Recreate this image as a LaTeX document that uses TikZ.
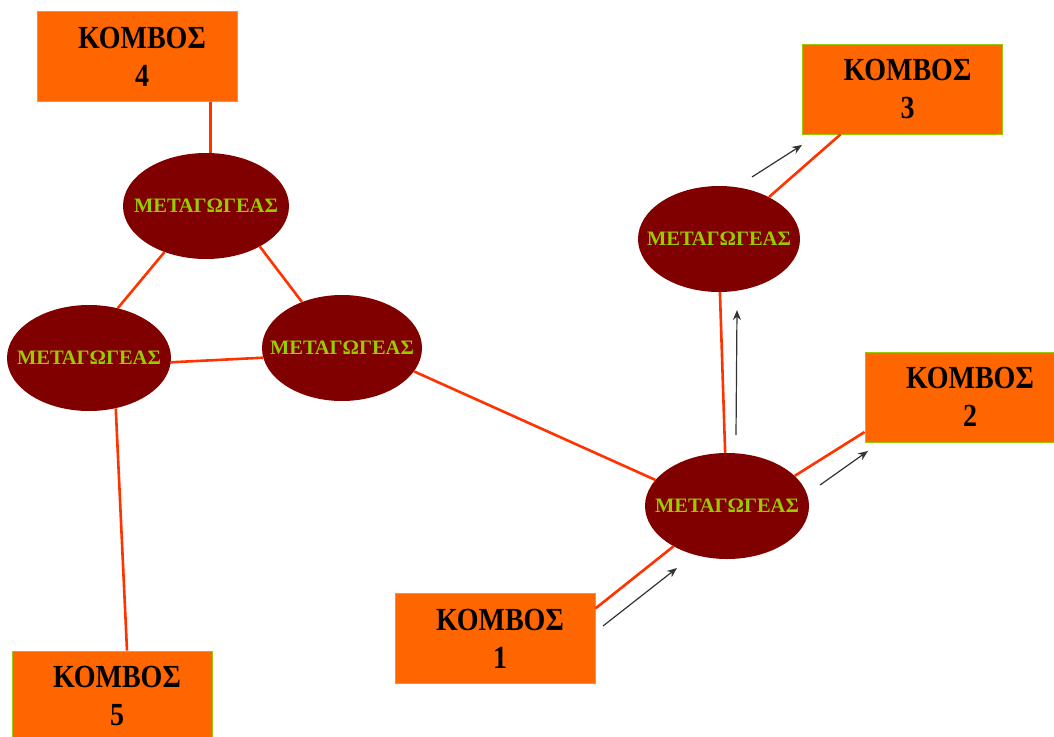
\documentclass[tikz,border=0pt]{standalone}
\usepackage{fontspec}
\setmainfont{Liberation Serif}
\usetikzlibrary{shapes.geometric,arrows.meta,calc}
\definecolor{nodeorange}{HTML}{FF6600}
\definecolor{limeedge}{HTML}{99CC00}
\definecolor{switchred}{HTML}{800000}
\definecolor{linkred}{HTML}{FF3300}
\newcommand{\swlabel}{\makebox[0pt]{ΜΕΤΑΓΩΓΕΑΣ}}
\newcommand{\tallword}[1]{\hspace*{10pt}\scalebox{1}[1.15]{#1}}
\newcommand{\hostlabel}[1]{\tallword{ΚΟΜΒΟΣ}\\\tallword{#1}}
\begin{document}
\begin{tikzpicture}[x=1pt,y=-1pt,
  hostbox/.style={rectangle,draw=limeedge,line width=0.8pt,fill=nodeorange,
    minimum width=200pt,minimum height=90pt,inner sep=0pt,align=center,
    font=\fontsize{28}{38}\selectfont\bfseries},
  switchnode/.style={ellipse,fill=switchred,draw=none,minimum width=164pt,
    minimum height=106pt,inner sep=0pt,text=limeedge,
    font=\fontsize{20.5}{22}\selectfont\bfseries},
  link/.style={draw=linkred,line width=2.6pt},
  flow/.style={draw=black!80,line width=1.2pt,-{Stealth[length=10pt,width=8pt]}}]
\useasboundingbox (0,0) rectangle (1054,736);

% end nodes
\node[hostbox] (B4) at (137,56.5) {\hostlabel{4}};
\node[hostbox] (B3) at (902.5,89) {\hostlabel{3}};
\node[hostbox] (B2) at (965,397) {\hostlabel{2}};
\node[hostbox] (B1) at (495,638.5) {\hostlabel{1}};
\node[hostbox] (B5) at (112,696) {\hostlabel{5}};

% switches
\node[switchnode,minimum width=166pt] (E4) at (206,206) {\swlabel};
\node[switchnode] (E5) at (89,358) {\swlabel};
\node[switchnode,minimum width=160pt] (EM) at (342,348) {\swlabel};
\node[switchnode,minimum width=162pt] (E3) at (719,239) {\swlabel};
\node[switchnode] (E1) at (727,506) {\swlabel};

% links
\draw[link] (B4.south -| E4.85) -- (E4.85);
\draw[link] (E4.228) -- (E5.60);
\draw[link] (E4.-37) -- (EM.131);
\draw[link] (E5.-3) -- (EM.187);
\draw[link] (E5.-62) -- ([xshift=15pt]B5.north);
\draw[link] (EM.-18) -- (E1.160);
\draw[link] (E1.217) -- ([yshift=30pt]B1.east);
\draw[link] (E1.92) -- (E3.-89);
\draw[link] (E1.24) -- ([yshift=-35pt]B2.west);
\draw[link] (E3.40) -- ([xshift=-62pt]B3.south);

% traffic direction
\coordinate (f1a) at (603,626); \coordinate (f1b) at (677,568);
\coordinate (f2a) at (736,435); \coordinate (f2b) at (737,310);
\coordinate (f3a) at (820,485); \coordinate (f3b) at (868,451);
\coordinate (f4a) at (752,177); \coordinate (f4b) at (802,145);
\draw[flow] (f1a) -- (f1b);
\draw[flow] (f2a) -- (f2b);
\draw[flow] (f3a) -- (f3b);
\draw[flow] (f4a) -- (f4b);
\end{tikzpicture}
\end{document}
